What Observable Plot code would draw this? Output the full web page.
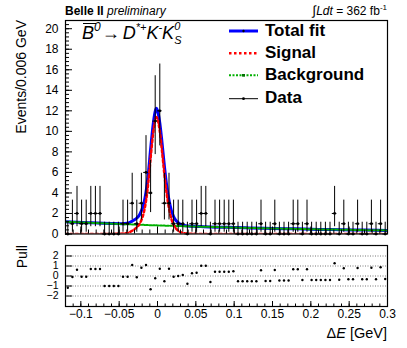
<!DOCTYPE html>
<html>
<head>
<meta charset="utf-8">
<script src="https://cdn.jsdelivr.net/npm/d3@7"></script>
<script src="https://cdn.jsdelivr.net/npm/@observablehq/plot@0.6"></script>
<style>
  html, body { margin: 0; padding: 0; background: white; }
  #wrap { position: relative; width: 407px; height: 348px; overflow: hidden; background: white;
          font-family: "Liberation Sans", Arial, Helvetica, sans-serif; }
  #wrap > svg, #wrap > div { position: absolute; left: 0; }
</style>
</head>
<body>
<div id="wrap"></div>
<script>
// ---- data ----
const binCenters = [-0.117,-0.111,-0.105,-0.099,-0.093,-0.087,-0.081,-0.075,-0.069,-0.063,
  -0.057,-0.051,-0.045,-0.039,-0.033,-0.027,-0.021,-0.015,-0.009,-0.003,
  0.003,0.009,0.015,0.021,0.027,0.033,0.039,0.045,0.051,0.057,
  0.063,0.069,0.075,0.081,0.087,0.093,0.099,0.105,0.111,0.117,
  0.123,0.129,0.135,0.141,0.147,0.153,0.159,0.165,0.171,0.177,
  0.183,0.189,0.195,0.201,0.207,0.213,0.219,0.225,0.231,0.237,
  0.243,0.249,0.255,0.261,0.267,0.273,0.279,0.285,0.291,0.297];
const binWidth = 0.006;
const counts = [0,1,2,1,1,2,2,2,0,0, 0,0,1,1,3,1,3,6,4,11, 12,3,3,1,1,1,0,1,1,2,
  2,0,1,1,1,1,1,0,0,0, 0,0,1,0,0,1,0,0,0,1, 1,0,1,0,0,0,0,0,2,0, 1,0,0,1,0,0,1,0,1,0];
const pulls = [-1.17,-0.1,0.63,-0.07,-0.07,0.7,0.7,0.7,-1.0,-1.0,
  -1.0,-1.0,-0.07,-0.07,1.1,-0.13,0.83,1.1,-1.33,-0.23,
  0.73,-0.53,0.73,-0.07,0,0.1,-0.77,0.27,0.33,1.03,
  1.03,-0.6,0.43,0.43,0.43,0.43,0.47,-0.53,-0.53,-0.53,
  -0.53,-0.53,0.57,-0.5,-0.5,0.6,-0.45,-0.45,-0.45,0.67,
  0.67,-0.4,0.67,-0.4,-0.4,-0.4,-0.4,-0.4,1.27,-0.37,
  0.77,-0.33,-0.33,0.8,-0.33,-0.33,0.83,-0.33,0.87,-0.3];
// Poisson interval bounds indexed by count
const poissonLow  = [0, 0.173, 0.708, 1.367, 2.086, 2.84, 3.62, 4.419, 5.232, 6.057, 6.891, 7.735, 8.585];
const poissonHigh = [1.147, 3.3, 4.638, 5.918, 7.163, 8.382, 9.584, 10.77, 11.95, 13.11, 14.27, 15.42, 16.56];

const fitX = [-0.12,-0.09,-0.06, -0.045,-0.04,-0.036,-0.033,-0.03, -0.027,-0.024,-0.021,-0.018,-0.015,
  -0.012,-0.009,-0.006,-0.003,-0.0015, 0,0.003,0.006,0.009,0.012, 0.015,0.018,0.021,0.024,0.027,
  0.03,0.035,0.04,0.05,0.06, 0.09,0.12,0.15,0.18,0.21, 0.24,0.27,0.3];
const fitSignal = [0,0,0.01, 0.04,0.1,0.2,0.32,0.46, 0.65,0.9,1.35,2.05,3.2,
  5.0,7.4,9.6,11.1,11.4, 11.2,10.0,8.0,5.8,3.9, 2.5,1.5,0.9,0.55,0.33,
  0.18,0.07,0.03,0.01,0, 0,0,0,0,0, 0,0,0];
const fitBackground = [1.2,1.1,1.01, 0.96,0.95,0.94,0.93,0.92, 0.91,0.9,0.9,0.89,0.88,
  0.87,0.86,0.86,0.85,0.845, 0.84,0.83,0.83,0.82,0.81, 0.8,0.8,0.79,0.78,0.77,
  0.77,0.76,0.75,0.73,0.71, 0.65,0.59,0.54,0.5,0.45, 0.42,0.38,0.35];
const fitTotal = [1.2,1.1,1.02, 1.0,1.05,1.14,1.25,1.38, 1.56,1.8,2.25,2.94,4.08,
  5.87,8.26,10.46,11.95,12.25, 12.04,10.83,8.83,6.62,4.71, 3.3,2.3,1.69,1.33,1.1,
  0.95,0.83,0.78,0.74,0.71, 0.65,0.59,0.54,0.5,0.45, 0.42,0.38,0.35];

const xTickValues = [-0.1,-0.05,0,0.05,0.1,0.15,0.2,0.25,0.3];
const xTickLabels = ["−0.1","−0.05","0","0.05","0.1","0.15","0.2","0.25","0.3"];
const yTickValues = [0,2,4,6,8,10,12,14,16,18,20];
const pullTickValues = [-2,-1,0,1,2];
const pullTickLabels = ["−2","−1","0","1","2"];

// ---- tables ----
const dataRows = binCenters.map((c, i) => ({
  c, n: counts[i], lo: poissonLow[counts[i]], hi: poissonHigh[counts[i]],
  x0: c - binWidth / 2, x1: c + binWidth / 2, p: pulls[i]
}));
const fitRows = fitX.map((x, i) => ({x, sig: fitSignal[i], bkg: fitBackground[i], tot: fitTotal[i]}));
const xMinor = d3.range(-0.12, 0.3001, 0.01);
const yMinor = d3.range(0, 20.8, 0.4);

const FONT = '"Liberation Sans", Arial, Helvetica, sans-serif';
const xDomain = [-0.12, 0.3];

const main = Plot.plot({
  width: 407, height: 240,
  marginLeft: 65, marginRight: 20, marginTop: 20, marginBottom: 6.5,
  x: {domain: xDomain},
  y: {domain: [0, 20.8]},
  style: {fontFamily: FONT, fontSize: "12px", color: "black", background: "white", overflow: "visible"},
  marks: [
    Plot.line(fitRows, {x: "x", y: "tot", stroke: "#0000ff", strokeWidth: 3, curve: "monotone-x", clip: true}),
    Plot.line(fitRows, {x: "x", y: "bkg", stroke: "#00b000", strokeWidth: 2, strokeDasharray: "2,1.5", curve: "monotone-x", clip: true}),
    Plot.line(fitRows, {x: "x", y: "sig", stroke: "#ff0000", strokeWidth: 2.5, strokeDasharray: "2.5,2.5", curve: "monotone-x", clip: true}),
    Plot.ruleX(dataRows, {x: "c", y1: "lo", y2: "hi", stroke: "black", strokeWidth: 1}),
    Plot.ruleY(dataRows, {y: "n", x1: "x0", x2: "x1", stroke: "black", strokeWidth: 1}),
    Plot.dot(dataRows, {x: "c", y: "n", r: 1.4, fill: "black", stroke: "none"}),
    Plot.axisY(yTickValues, {anchor: "left", tickSize: -7, tickFormat: () => "", label: null}),
    Plot.axisY(yMinor, {anchor: "left", tickSize: -4, tickFormat: () => "", label: null}),
    Plot.axisY(yTickValues, {anchor: "left", tickSize: 0, tickPadding: 7, fontSize: 12, label: null}),
    Plot.axisX(xTickValues, {anchor: "bottom", tickSize: -7, tickFormat: () => "", label: null}),
    Plot.axisX(xMinor, {anchor: "bottom", tickSize: -4, tickFormat: () => "", label: null}),
    Plot.frame({stroke: "black", strokeWidth: 1.2})
  ]
});
main.style.top = "0px";

const pull = Plot.plot({
  width: 407, height: 108,
  marginLeft: 65, marginRight: 20, marginTop: 5, marginBottom: 42,
  x: {domain: xDomain},
  y: {domain: [-3.05, 3.05]},
  style: {fontFamily: FONT, fontSize: "12px", color: "black", background: "white", overflow: "visible"},
  marks: [
    Plot.ruleY(pullTickValues, {stroke: "#777", strokeWidth: 1, strokeDasharray: "1,1.5"}),
    Plot.dot(dataRows, {x: "c", y: "p", r: 1.2, fill: "black", stroke: "none"}),
    Plot.axisY(pullTickValues, {anchor: "left", tickSize: -7, tickFormat: () => "", label: null}),
    Plot.axisY(pullTickValues, {anchor: "left", tickSize: 0, tickPadding: 7, fontSize: 10.5, label: null,
      tickFormat: d => pullTickLabels[pullTickValues.indexOf(d)]}),
    Plot.axisX(xTickValues, {anchor: "bottom", tickSize: -5, tickFormat: () => "", label: null}),
    Plot.axisX(xMinor, {anchor: "bottom", tickSize: -2.5, tickFormat: () => "", label: null}),
    Plot.axisX(xTickValues, {anchor: "bottom", tickSize: 0, tickPadding: 3, fontSize: 12, label: null,
      tickFormat: d => xTickLabels[xTickValues.indexOf(d)]}),
    Plot.frame({stroke: "black", strokeWidth: 1.2})
  ]
});
pull.style.top = "240px";

const wrap = document.getElementById("wrap");
wrap.appendChild(main);
wrap.appendChild(pull);

// ---- text overlay: titles, labels, legend ----
const NS = "http://www.w3.org/2000/svg";
const ov = document.createElementNS(NS, "svg");
ov.setAttribute("width", 407); ov.setAttribute("height", 348);
ov.style.top = "0px"; ov.style.pointerEvents = "none";
ov.innerHTML = `
<g font-family='${FONT}' fill='black'>
  <text x="65" y="15" font-size="12"><tspan font-weight="bold">Belle II</tspan><tspan font-style="italic"> preliminary</tspan></text>
  <text x="387" y="15" font-size="12" text-anchor="end"><tspan font-size="13">∫</tspan><tspan font-style="italic">Ldt</tspan> = 362 fb<tspan font-size="8" dy="-5">-1</tspan></text>
  <line x1="83" x2="96" y1="23.5" y2="23.5" stroke="black" stroke-width="1"/>
  <text x="82" y="38.5" font-size="18" font-style="italic">B<tspan font-size="12" dy="-8">0</tspan><tspan font-style="normal" dy="8" dx="1">→</tspan><tspan dx="3">D</tspan><tspan font-size="11" dy="-8">*+</tspan><tspan dy="8">K</tspan><tspan font-size="11" dy="-8">-</tspan><tspan dy="8">K</tspan><tspan font-size="11" dy="-9">0</tspan><tspan font-size="11" dx="-6" dy="14">S</tspan></text>
  <text transform="translate(26,20) rotate(-90)" font-size="14" text-anchor="end">Events/0.006 GeV</text>
  <text transform="translate(27,245) rotate(-90)" font-size="14" text-anchor="end">Pull</text>
  <text x="387" y="338" font-size="14.5" text-anchor="end">Δ<tspan font-style="italic">E</tspan> [GeV]</text>

  <line x1="229" x2="258" y1="31" y2="31" stroke="#0000ff" stroke-width="3"/>
  <circle cx="243.5" cy="31" r="1.2" fill="black"/>
  <text x="265" y="35.5" font-size="17" font-weight="bold">Total fit</text>
  <line x1="229" x2="258" y1="53.3" y2="53.3" stroke="#ff0000" stroke-width="2.5" stroke-dasharray="2.5,2.5"/>
  <text x="265" y="57.7" font-size="17" font-weight="bold">Signal</text>
  <line x1="229" x2="258" y1="75.3" y2="75.3" stroke="#00b000" stroke-width="2" stroke-dasharray="2,1.5"/>
  <rect x="242" y="74" width="3" height="2.6" fill="#007000"/>
  <text x="265" y="80" font-size="17" font-weight="bold">Background</text>
  <line x1="229" x2="258" y1="98.7" y2="98.7" stroke="black" stroke-width="1"/>
  <circle cx="243.5" cy="98.7" r="1.4" fill="black"/>
  <text x="265" y="102.7" font-size="17" font-weight="bold">Data</text>
</g>`;
wrap.appendChild(ov);
</script>
</body>
</html>
